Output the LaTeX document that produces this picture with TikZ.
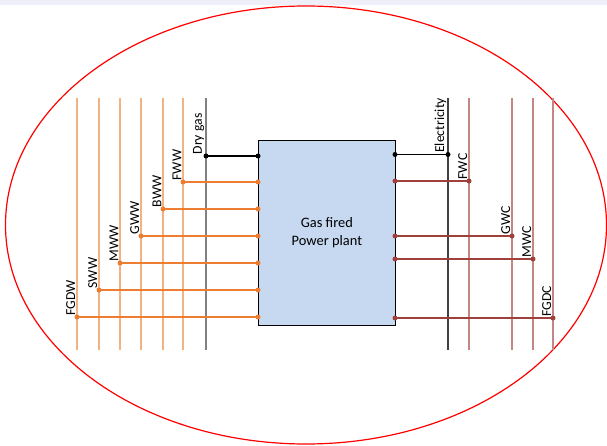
\documentclass[tikz,border=0pt]{standalone}
\usepackage{fontspec}
\setmainfont{Carlito}
\usetikzlibrary{shapes.geometric}
\begin{document}
\begin{tikzpicture}[x=1pt,y=-1pt,
  lbl/.style={rotate=90,anchor=south west,inner sep=1.5pt,font=\fontsize{13.7}{16}\selectfont},
  dotc/.style={circle,fill=#1,inner sep=0pt,minimum size=5pt},
  owire/.style={draw=orgL,line width=1.1pt},
  ohor/.style={draw=orgD,line width=1.3pt},
  rwire/.style={draw=redL,line width=1.1pt},
  rhor/.style={draw=redD,line width=1.3pt}]
\definecolor{orgD}{HTML}{ED7D31}
\definecolor{orgL}{HTML}{F4B183}
\definecolor{redD}{HTML}{A0403B}
\definecolor{redL}{HTML}{C48683}
\definecolor{boxF}{HTML}{C6D9F1}
\definecolor{lav}{HTML}{EFEFFA}
\useasboundingbox (0,0) rectangle (607,446);
\fill[lav] (0,0) rectangle (607,5);
\node[draw=red,line width=1.2pt,ellipse,minimum width=601pt,minimum height=438pt,inner sep=0pt] (ell) at (306,225) {};
% box
\node[draw=black,line width=0.8pt,fill=boxF,minimum width=137pt,minimum height=185pt,inner sep=0pt,anchor=north west,align=center,font=\fontsize{14.4}{17.5}\selectfont] (plant) at (258,140) {Gas fired\\Power plant};
% left vertical lines
\foreach \n/\x in {fgdw/77,sww/99,mww/120,gww/141,bww/163,fww/183}{
  \coordinate (\n t) at (\x,98);
  \coordinate (\n b) at (\x,350);
  \draw[owire] (\n t) -- (\n b);
}
\coordinate (dgt) at (206,98);
\coordinate (dgb) at (206,350);
\draw[draw=gray,line width=1.3pt] (dgt) -- (dgb);
% right vertical lines
\coordinate (elt) at (448,98);
\coordinate (elb) at (448,350);
\draw[draw=black!75,line width=1.1pt] (elt) -- (elb);
\foreach \n/\x in {fwc/469,gwc/512,mwc/533,fgdc/553}{
  \coordinate (\n t) at (\x,98);
  \coordinate (\n b) at (\x,350);
  \draw[rwire] (\n t) -- (\n b);
}
% left connections
\coordinate (dg) at (206,156);
\coordinate (pdg) at (258,156);
\draw[black,line width=1.3pt] (dg) -- (pdg);
\node[dotc=black] at (dg) {};
\node[dotc=black] at (pdg) {};
\node[lbl] at (dg) {Dry gas};
\foreach \n/\x/\y/\t in {fww/183/182/FWW,bww/163/209/BWW,gww/141/236/GWW,mww/120/263/MWW,sww/99/290/SWW,fgdw/77/317/FGDW}{
  \coordinate (\n) at (\x,\y);
  \coordinate (p\n) at (258,\y);
  \draw[ohor] (\n) -- (p\n);
  \node[dotc=orgD] at (\n) {};
  \node[dotc=orgD] at (p\n) {};
  \node[lbl] at (\n) {\t};
}
% right connections
\coordinate (el) at (448,154.5);
\coordinate (pel) at (395,154.5);
\draw[black,line width=1.3pt] (pel) -- (el);
\node[dotc=black] at (el) {};
\node[dotc=black] at (pel) {};
\node[lbl] at (el) {Electricity};
\foreach \n/\x/\y/\t in {fwc/469/181/FWC,gwc/512/236/GWC,mwc/533/259/MWC,fgdc/553/318/FGDC}{
  \coordinate (\n) at (\x,\y);
  \coordinate (p\n) at (395,\y);
  \draw[rhor] (p\n) -- (\n);
  \node[dotc=redD] at (\n) {};
  \node[dotc=redD] at (p\n) {};
  \node[lbl] at (\n) {\t};
}
\end{tikzpicture}
\end{document}
